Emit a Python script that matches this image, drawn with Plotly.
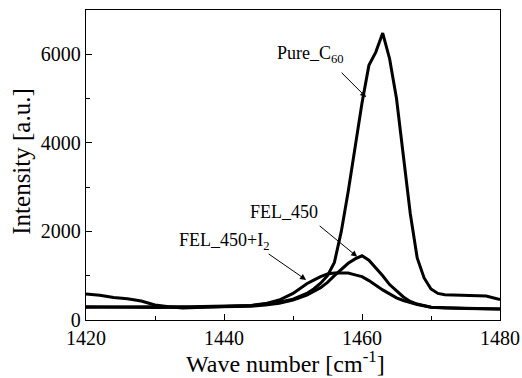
import plotly.graph_objects as go

pure_x = [1420,1422,1424,1426,1428,1430,1432,1434,1436,1438,1440,1442,1444,1446,1448,1450,1452,1453,1454,1455,1456,1457,1458,1459,1460,1461,1462,1463,1464,1465,1466,1467,1468,1469,1470,1471,1472,1474,1476,1478,1480]
pure_y = [590,560,510,480,430,340,300,270,280,290,300,310,330,360,400,470,600,700,830,1000,1300,2000,2900,3900,4900,5750,6050,6480,5900,5000,3700,2400,1400,950,700,600,570,560,560,540,460]

fel_x = [1420,1425,1430,1435,1440,1444,1446,1448,1450,1452,1454,1455,1456,1457,1458,1459,1460,1461,1462,1463,1464,1465,1466,1467,1468,1470,1472,1475,1480]
fel_y = [300,290,280,290,300,310,340,380,450,560,730,850,1000,1150,1280,1380,1450,1350,1180,1000,800,650,520,420,360,290,270,260,250]

feli_x = [1420,1425,1430,1435,1440,1444,1446,1448,1450,1451,1452,1453,1454,1455,1456,1457,1458,1459,1460,1461,1462,1463,1464,1465,1466,1467,1468,1470,1472,1475,1480]
feli_y = [290,300,300,300,310,330,370,450,600,720,820,900,980,1040,1060,1060,1060,1020,980,890,780,680,590,500,440,390,350,290,275,265,250]

x_ticks = [1420, 1440, 1460, 1480]
y_ticks = [0, 2000, 4000, 6000]

FONT = "Liberation Serif"
fig = go.Figure()
for xs, ys, name in [(pure_x, pure_y, "Pure_C60"), (fel_x, fel_y, "FEL_450"), (feli_x, feli_y, "FEL_450+I2")]:
    fig.add_trace(go.Scatter(x=xs, y=ys, mode="lines", name=name,
                             line=dict(color="black", width=3)))

ann = [
    dict(text="Pure_C<sub>60</sub>", x=1460.6, y=5030, ax=-26, ay=-26, tx=1452.5, ty=6000),
    dict(text="FEL_450", x=1459.3, y=1430, ax=-39, ay=-32, tx=1448.7, ty=2445),
    dict(text="FEL_450+I<sub>2</sub>", x=1451.9, y=906, ax=-39, ay=-27, tx=1440.0, ty=1765),
]
for a in ann:
    fig.add_annotation(x=a["x"], y=a["y"], ax=a["ax"], ay=a["ay"], text="",
                       showarrow=True, arrowhead=2, arrowsize=1.2, arrowwidth=1, arrowcolor="black")
    fig.add_annotation(x=a["tx"], y=a["ty"], text=a["text"], showarrow=False,
                       font=dict(family=FONT, size=18, color="black"))

# axis titles as annotations
fig.add_annotation(xref="paper", yref="paper", x=0.483, y=-0.082, xanchor="center", yanchor="top",
                   text="Wave number [cm<sup>-1</sup>]", showarrow=False,
                   font=dict(family=FONT, size=24, color="black"))
fig.add_annotation(xref="paper", yref="paper", x=-0.155, y=0.51, xanchor="center", yanchor="middle",
                   textangle=-90, text="Intensity [a.u.]", showarrow=False,
                   font=dict(family=FONT, size=25, color="black"))

axis_common = dict(showline=True, linecolor="black", linewidth=1.4, mirror=True,
                   ticks="inside", ticklen=6, tickcolor="black", showgrid=False, zeroline=False,
                   automargin=False,
                   tickfont=dict(family=FONT, size=20, color="black"))
fig.update_xaxes(range=[1420, 1480], tickvals=x_ticks,
                 minor=dict(ticks="inside", ticklen=4, dtick=10, tickcolor="black"),
                 **axis_common)
fig.update_yaxes(range=[0, 7000], tickvals=y_ticks,
                 minor=dict(ticks="inside", ticklen=4, dtick=1000, tickcolor="black"),
                 **axis_common)
fig.update_layout(width=522, height=378, margin=dict(l=86, r=22, t=10, b=58),
                  font=dict(family=FONT, color="black"),
                  plot_bgcolor="white", paper_bgcolor="white", showlegend=False)
fig.write_html("out.html", config={"displayModeBar": False},
               post_script="document.body.style.margin='0';document.body.style.overflow='hidden';")
